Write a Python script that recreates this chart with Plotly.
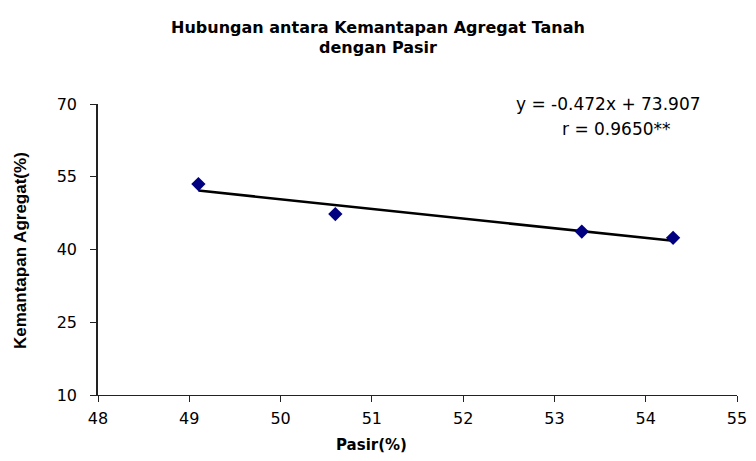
import numpy as np
import plotly.graph_objects as go

pasir = [49.1, 50.6, 53.3, 54.3]
kemantapan = [53.5, 47.3, 43.7, 42.4]
x_ticks = [48, 49, 50, 51, 52, 53, 54, 55]
y_ticks = [10, 25, 40, 55, 70]
equation_text = "y = -0.472x + 73.907"
r_text = "r = 0.9650**"

# linear trendline fitted to the data points
slope, intercept = np.polyfit(pasir, kemantapan, 1)
trend_x = [min(pasir), max(pasir)]
trend_y = [slope * v + intercept for v in trend_x]

FONT = "Liberation Sans, Arial, sans-serif"
WIDE = "DejaVu Sans, Liberation Sans, sans-serif"

W, H = 740, 445
L, R, T, B = 90, 11, 96, H - 387
PW, PH = W - L - R, H - T - B

fig = go.Figure()
fig.add_trace(go.Scatter(
    x=trend_x, y=trend_y, mode="lines",
    line=dict(color="black", width=2.6),
    showlegend=False, hoverinfo="skip",
))
fig.add_trace(go.Scatter(
    x=pasir, y=kemantapan, mode="markers",
    marker=dict(symbol="diamond", size=11, color="#000080"),
    showlegend=False,
))

fig.update_layout(
    width=W, height=H,
    paper_bgcolor="white", plot_bgcolor="white",
    margin=dict(l=L, r=R, t=T, b=B),
    font=dict(family=FONT, color="black"),
    title=dict(
        text="<b>Hubungan antara Kemantapan Agregat Tanah<br>dengan Pasir</b>",
        x=0.5, xanchor="center", y=1 - 24.5 / H, yanchor="middle",
        font=dict(family=WIDE, size=16, color="black"),
    ),
    xaxis=dict(
        range=[48, 55], tickvals=x_ticks, ticktext=[str(v) for v in x_ticks],
        showgrid=False, zeroline=False, showline=True, linecolor="#222", linewidth=1,
        ticks="outside", ticklen=6, tickcolor="#222",
        tickfont=dict(family=WIDE, size=16), ticklabelstandoff=3,
        ticklabeloverflow="allow", automargin=False,
    ),
    yaxis=dict(
        range=[10, 70], tickvals=y_ticks, ticktext=[str(v) for v in y_ticks],
        showgrid=False, zeroline=False, showline=True, linecolor="#222", linewidth=1.5,
        ticks="outside", ticklen=6, tickcolor="#222",
        tickfont=dict(family=WIDE, size=16), ticklabelstandoff=10,
        automargin=False,
    ),
    annotations=[
        dict(text=equation_text, xref="paper", yref="paper", x=(600 - L) / PW, y=1.0,
             xanchor="center", yanchor="middle", showarrow=False,
             font=dict(family=WIDE, size=17)),
        dict(text=r_text, xref="paper", yref="paper", x=(608 - L) / PW, y=1 - 25 / PH,
             xanchor="center", yanchor="middle", showarrow=False,
             font=dict(family=WIDE, size=17)),
        dict(text="<b>Pasir(%)</b>", xref="paper", yref="paper", x=(363 - L) / PW,
             y=-(437 - (H - B)) / PH,
             xanchor="center", yanchor="middle", showarrow=False,
             font=dict(family=WIDE, size=15)),
        dict(text="<b>Kemantapan Agregat(%)</b>", xref="paper", yref="paper",
             x=(12 - L) / PW, y=1 - (243 - T) / PH, textangle=-90,
             xanchor="center", yanchor="middle", showarrow=False,
             font=dict(family=FONT, size=17)),
    ],
)

fig.write_html("out.html")
